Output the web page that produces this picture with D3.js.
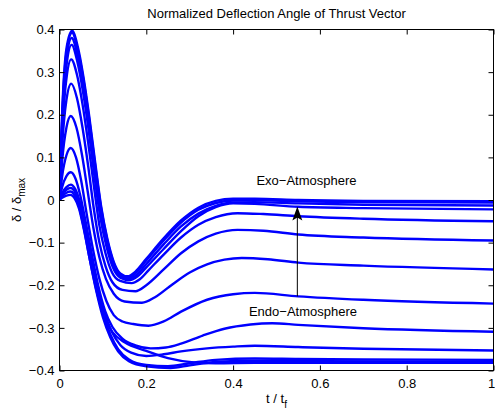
<!DOCTYPE html>
<html>
<head>
<meta charset="utf-8">
<script src="https://cdn.jsdelivr.net/npm/d3@7"></script>
<style>
  html, body { margin: 0; padding: 0; background: #fff; }
  svg { display: block; }
  text { font-family: "Liberation Sans", Arial, Helvetica, sans-serif; fill: #000; }
</style>
</head>
<body>
<svg id="chart" width="495" height="411"></svg>
<script>
// ---------------- data ----------------
const titleText = "Normalized Deflection Angle of Thrust Vector";
const xTicks = [0, 0.2, 0.4, 0.6, 0.8, 1];
const xTickLabels = ["0", "0.2", "0.4", "0.6", "0.8", "1"];
const yTicks = [-0.4, -0.3, -0.2, -0.1, 0, 0.1, 0.2, 0.3, 0.4];
const yTickLabels = ["\u22120.4", "\u22120.3", "\u22120.2", "\u22120.1", "0", "0.1", "0.2", "0.3", "0.4"];

// each curve: [t/tf, delta/deltamax] points
const curve01 = [[0,0],[.006,.2],[.016,.355],[.029,.397],[.042,.36],[.055,.29],[.068,.2],[.082,.09],[.096,-.015],[.11,-.09],[.125,-.145],[.14,-.172],[.157,-.179],[.175,-.168],[.2,-.138],[.24,-.09],[.28,-.048],[.32,-.018],[.36,-.002],[.4,.003],[.45,.003],[.55,.0],[.7,-.002],[1,-.003]];
const curve02 = [[0,0],[.006,.19],[.016,.345],[.029,.392],[.042,.353],[.055,.283],[.068,.193],[.082,.083],[.096,-.02],[.11,-.094],[.125,-.148],[.14,-.175],[.158,-.182],[.176,-.171],[.2,-.142],[.24,-.095],[.28,-.053],[.32,-.023],[.36,-.007],[.4,-.001],[.45,.0],[.55,-.003],[.7,-.005],[1,-.006]];
const curve03 = [[0,0],[.006,.18],[.016,.33],[.028,.38],[.041,.342],[.054,.272],[.067,.182],[.081,.072],[.095,-.03],[.109,-.1],[.124,-.152],[.14,-.179],[.16,-.185],[.178,-.175],[.2,-.15],[.24,-.104],[.28,-.062],[.32,-.032],[.36,-.014],[.4,-.006],[.45,-.005],[.55,-.008],[.7,-.011],[1,-.013]];
const curve04 = [[0,0],[.006,.17],[.016,.315],[.028,.364],[.041,.325],[.054,.255],[.067,.165],[.08,.06],[.094,-.04],[.108,-.108],[.123,-.158],[.14,-.182],[.162,-.188],[.18,-.179],[.2,-.158],[.24,-.115],[.28,-.073],[.32,-.038],[.36,-.017],[.4,-.008],[.45,-.009],[.55,-.016],[.7,-.019],[1,-.022]];
const curve05 = [[0,0],[.006,.15],[.016,.285],[.027,.33],[.04,.295],[.053,.225],[.066,.135],[.079,.035],[.092,-.06],[.106,-.125],[.121,-.17],[.14,-.19],[.166,-.195],[.185,-.186],[.205,-.165],[.24,-.128],[.28,-.088],[.32,-.058],[.36,-.04],[.41,-.031],[.47,-.033],[.55,-.038],[.7,-.044],[1,-.05]];
const curve06 = [[0,0],[.006,.125],[.016,.235],[.027,.273],[.04,.24],[.053,.17],[.066,.08],[.079,-.02],[.092,-.1],[.106,-.155],[.122,-.193],[.145,-.211],[.175,-.214],[.2,-.2],[.24,-.163],[.28,-.125],[.32,-.097],[.36,-.079],[.41,-.07],[.47,-.072],[.55,-.081],[.7,-.088],[1,-.095]];
const curve07 = [[0,0],[.006,.09],[.016,.17],[.026,.197],[.039,.17],[.052,.105],[.065,.02],[.078,-.065],[.092,-.135],[.107,-.185],[.125,-.22],[.15,-.238],[.19,-.241],[.22,-.228],[.26,-.198],[.3,-.17],[.34,-.151],[.38,-.14],[.42,-.136],[.48,-.139],[.55,-.147],[.7,-.154],[1,-.163]];
const curve08 = [[0,0],[.006,.055],[.016,.105],[.026,.122],[.038,.1],[.05,.045],[.063,-.035],[.077,-.115],[.092,-.185],[.108,-.237],[.125,-.27],[.145,-.285],[.17,-.291],[.205,-.295],[.24,-.285],[.28,-.262],[.34,-.234],[.4,-.221],[.45,-.218],[.55,-.226],[.7,-.234],[1,-.243]];
const curve09 = [[0,0],[.006,.03],[.016,.056],[.026,.065],[.037,.05],[.048,.01],[.06,-.05],[.074,-.125],[.089,-.2],[.105,-.26],[.122,-.298],[.145,-.325],[.175,-.341],[.21,-.348],[.245,-.346],[.28,-.337],[.33,-.318],[.38,-.302],[.44,-.292],[.49,-.289],[.55,-.293],[.7,-.301],[1,-.309]];
const curve10 = [[0,0],[.006,.016],[.016,.03],[.026,.036],[.036,.026],[.047,-.005],[.058,-.055],[.072,-.125],[.087,-.2],[.103,-.262],[.12,-.308],[.14,-.34],[.165,-.358],[.2,-.366],[.24,-.362],[.28,-.355],[.34,-.348],[.4,-.344],[.45,-.342],[.55,-.345],[.7,-.349],[1,-.353]];
const curve11 = [[0,0],[.006,.013],[.016,.024],[.026,.028],[.036,.018],[.046,-.01],[.057,-.06],[.07,-.13],[.085,-.205],[.1,-.268],[.117,-.315],[.135,-.35],[.16,-.374],[.2,-.387],[.25,-.39],[.3,-.383],[.36,-.375],[.45,-.372],[.55,-.373],[.7,-.374],[1,-.375]];
const curve12 = [[0,0],[.006,.009],[.016,.017],[.025,.02],[.035,.011],[.045,-.015],[.056,-.065],[.069,-.135],[.084,-.21],[.1,-.275],[.117,-.322],[.135,-.355],[.16,-.378],[.2,-.39],[.256,-.394],[.3,-.388],[.36,-.38],[.45,-.377],[.6,-.378],[1,-.379]];
const curve13 = [[0,0],[.006,.005],[.016,.01],[.025,.012],[.035,.004],[.045,-.02],[.056,-.068],[.07,-.14],[.086,-.215],[.103,-.275],[.122,-.31],[.15,-.334],[.2,-.354],[.25,-.371],[.31,-.381],[.36,-.383],[.45,-.382],[.7,-.382],[1,-.382]];
const seriesList = [curve01, curve02, curve03, curve04, curve05, curve06, curve07, curve08, curve09, curve10, curve11, curve12, curve13];

const arrowT = 0.548, arrowFrom = -0.226, arrowTo = -0.015;
const exoLabel = "Exo\u2212Atmosphere", endoLabel = "Endo\u2212Atmosphere";
const exoPos = [0.569, 0.036], endoPos = [0.561, -0.271];

// ---------------- drawing ----------------
const svg = d3.select("#chart");
const x = d3.scaleLinear().domain([0, 1]).range([59.5, 493.5]);
const y = d3.scaleLinear().domain([-0.4, 0.4]).range([370.5, 29.5]);

const fs = 13;

// curves
const line = d3.line().x(d => x(d[0])).y(d => y(d[1])).curve(d3.curveMonotoneX);
svg.append("clipPath").attr("id", "clip").append("rect")
  .attr("x", x(0)).attr("y", y(0.4) - 3).attr("width", x(1) - x(0)).attr("height", y(-0.4) - y(0.4) + 3);
svg.append("g").attr("clip-path", "url(#clip)")
  .selectAll("path").data(seriesList).join("path")
  .attr("d", line).attr("fill", "none").attr("stroke", "#0000ff")
  .attr("stroke-width", 2.4).attr("stroke-linejoin", "round");

// axes
function styleAxis(g) {
  g.select(".domain").remove();
  g.selectAll(".tick line").attr("stroke", "#000");
  g.selectAll("text").style("font-size", fs + "px").attr("fill", "#000")
    .style("font-family", '"Liberation Sans", Arial, sans-serif');
}
const xAxisG = svg.append("g").attr("transform", `translate(0,${y(-0.4)})`)
  .call(d3.axisBottom(x).tickValues(xTicks).tickFormat((d, i) => xTickLabels[i]).tickSizeInner(-5).tickSizeOuter(0).tickPadding(8))
  .call(styleAxis);
// keep the last label inside the canvas
xAxisG.selectAll(".tick text").filter(d => d === 1).attr("dx", -2.5);
svg.append("g").attr("transform", `translate(0,${y(0.4)})`)
  .call(d3.axisTop(x).tickValues(xTicks).tickFormat("").tickSizeInner(-5).tickSizeOuter(0))
  .call(styleAxis);
svg.append("g").attr("transform", `translate(${x(0)},0)`)
  .call(d3.axisLeft(y).tickValues(yTicks).tickFormat((d, i) => yTickLabels[i]).tickSizeInner(-5).tickSizeOuter(0).tickPadding(5))
  .call(styleAxis);
svg.append("g").attr("transform", `translate(${x(1)},0)`)
  .call(d3.axisRight(y).tickValues(yTicks).tickFormat("").tickSizeInner(-5).tickSizeOuter(0))
  .call(styleAxis);

svg.append("rect").attr("x", x(0)).attr("y", y(0.4)).attr("width", x(1) - x(0)).attr("height", y(-0.4) - y(0.4))
  .attr("fill", "none").attr("stroke", "#000").attr("stroke-width", 1);

// title
svg.append("text").attr("x", (x(0) + x(1)) / 2).attr("y", 18).attr("text-anchor", "middle")
  .style("font-size", fs + "px").text(titleText);

// x label
const xl = svg.append("text").attr("x", (x(0) + x(1)) / 2).attr("y", 403).attr("text-anchor", "middle").style("font-size", fs + "px");
xl.append("tspan").text("t / t");
xl.append("tspan").attr("dy", 5).style("font-size", "10px").text("f");

// y label
const yl = svg.append("text").attr("transform", `translate(21,${(y(0.4) + y(-0.4)) / 2}) rotate(-90)`).attr("text-anchor", "middle").style("font-size", fs + "px");
yl.append("tspan").text("\u03b4 / \u03b4");
yl.append("tspan").attr("dy", 4).style("font-size", "10px").text("max");

// arrow
svg.append("line").attr("x1", x(arrowT)).attr("x2", x(arrowT)).attr("y1", y(arrowFrom)).attr("y2", y(arrowTo) + 10)
  .attr("stroke", "#000").attr("stroke-width", 1);
const tipY = y(arrowTo), ax = x(arrowT);
svg.append("path").attr("d", `M${ax},${tipY} L${ax - 5},${tipY + 14} L${ax},${tipY + 11} L${ax + 5},${tipY + 14} Z`).attr("fill", "#000");

// annotations
svg.append("text").attr("x", x(exoPos[0])).attr("y", y(exoPos[1])).attr("text-anchor", "middle").style("font-size", fs + "px").text(exoLabel);
svg.append("text").attr("x", x(endoPos[0])).attr("y", y(endoPos[1])).attr("text-anchor", "middle").style("font-size", fs + "px").text(endoLabel);
</script>
</body>
</html>
